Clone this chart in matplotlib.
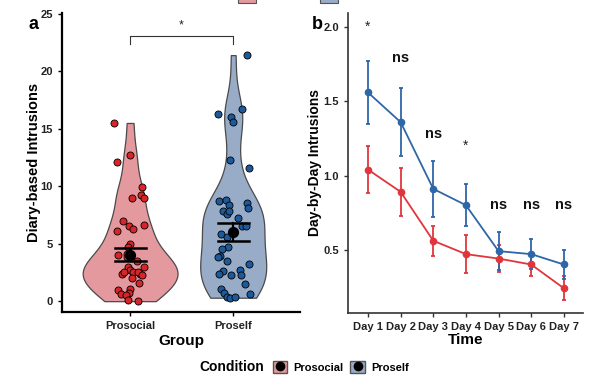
import numpy as np
import matplotlib
matplotlib.use("Agg")
import matplotlib.pyplot as plt
from matplotlib.patches import Patch, Rectangle
from matplotlib.lines import Line2D

plt.rcParams['font.family'] = ['Liberation Sans', 'DejaVu Sans']

# ---- data, panel a ----
groups = ["Prosocial", "Proself"]
prosocial_vals = [15.5, 12.7, 12.1, 9.9, 9.2, 9.0, 9.0, 7.0, 6.1, 6.5, 6.3, 6.6,
                  5.0, 4.7, 4.0, 4.1, 3.8, 3.5, 3.0, 3.0, 2.7, 2.5, 2.4, 2.5,
                  2.4, 2.5, 2.3, 2.0, 1.6, 1.1, 1.0, 0.6, 0.7, 0.5, 0.1, 0.0]
prosocial_jit = [-0.16, 0.0, -0.13, 0.12, 0.11, 0.13, 0.02, -0.07, -0.13, -0.01, 0.03, 0.13,
                 0.0, -0.02, -0.12, -0.03, -0.03, 0.07, 0.13, -0.02, 0.0, 0.03, -0.08, -0.06,
                 0.10, 0.08, 0.12, 0.02, 0.09, 0.0, -0.12, -0.09, -0.01, -0.04, -0.02, 0.08]
proself_vals = [21.4, 16.3, 16.7, 16.0, 15.6, 12.3, 11.6, 8.7, 8.8, 8.4, 8.5, 8.1,
                7.8, 7.6, 7.8, 7.2, 6.5, 6.5, 6.0, 5.8, 5.6, 4.7, 4.5, 3.9,
                3.8, 3.5, 3.2, 2.6, 2.4, 2.3, 2.7, 2.3, 1.5, 1.1, 0.7, 0.4,
                0.3, 0.4, 0.6]
proself_jit = [0.13, -0.15, 0.09, -0.02, 0.0, -0.03, 0.15, -0.14, -0.07, -0.04, 0.13, 0.14,
               -0.10, -0.06, -0.04, 0.05, 0.09, 0.12, 0.01, -0.12, -0.06, -0.05, -0.11, -0.13,
               -0.15, -0.06, 0.15, -0.10, -0.14, -0.02, 0.07, 0.08, 0.11, -0.12, -0.09, -0.06,
               -0.03, 0.02, 0.16]
group_mean = [4.05, 6.0]
group_lo = [3.5, 5.2]
group_hi = [4.6, 6.8]

# ---- data, panel b ----
days = ["Day 1", "Day 2", "Day 3", "Day 4", "Day 5", "Day 6", "Day 7"]
proself_day = [1.56, 1.36, 0.91, 0.80, 0.49, 0.47, 0.40]
proself_err = [0.21, 0.23, 0.19, 0.14, 0.13, 0.10, 0.10]
prosocial_day = [1.04, 0.89, 0.56, 0.47, 0.44, 0.40, 0.24]
prosocial_err = [0.16, 0.16, 0.10, 0.13, 0.09, 0.08, 0.08]
sig_labels = ["*", "ns", "ns", "*", "ns", "ns", "ns"]
sig_y = [2.0, 1.79, 1.28, 1.2, 0.8, 0.8, 0.8]

red_fill = "#E3999D"
blue_fill = "#98ACC8"
red_pt = "#D7262A"
blue_pt = "#1D5A9C"
red_line = "#E0363B"
blue_line = "#2E67A8"

fig = plt.figure(figsize=(5.91, 3.76), dpi=100)

# ---------------- panel a ----------------
ax = fig.add_axes([0.105, 0.170, 0.403, 0.795])
datasets = [np.array(prosocial_vals), np.array(proself_vals)]


def nrd0_factor(d):
    sd = d.std(ddof=1)
    iqr = np.subtract(*np.percentile(d, [75, 25]))
    bw = 0.9 * min(sd, iqr / 1.34) * len(d) ** -0.2
    return bw / sd


for i, (d, fc, w) in enumerate(zip(datasets, [red_fill, blue_fill], [0.92, 0.64])):
    vp = ax.violinplot(d, positions=[i + 1], widths=w, showextrema=False,
                       bw_method=nrd0_factor(d), points=200)
    for b in vp['bodies']:
        b.set_facecolor(fc)
        b.set_edgecolor("#4a4a4a")
        b.set_linewidth(0.9)
        b.set_alpha(1)

for i, (vals, jit, c) in enumerate(zip([prosocial_vals, proself_vals],
                                       [prosocial_jit, proself_jit], [red_pt, blue_pt])):
    ax.scatter(np.array(jit) + i + 1, vals, s=26, color=c, edgecolor="black",
               linewidth=0.6, zorder=3)

for i in range(2):
    x = i + 1
    ax.plot([x, x], [group_lo[i], group_hi[i]], color="black", lw=1.6, zorder=4)
    ax.plot([x - 0.15, x + 0.15], [group_lo[i]] * 2, color="black", lw=1.8, zorder=4)
    ax.plot([x - 0.15, x + 0.15], [group_hi[i]] * 2, color="black", lw=1.8, zorder=4)
    ax.scatter([x], [group_mean[i]], s=50, color="black", zorder=5)

# significance bracket
ax.plot([1, 1, 2, 2], [22.4, 23.1, 23.1, 22.4], color="#333333", lw=0.8)
ax.text(1.5, 23.5, "*", ha="center", va="bottom", fontsize=9, color="#222222")

ax.set_xlim(0.34, 2.65)
ax.set_ylim(-0.95, 25.05)
ax.set_xticks([1, 2])
ax.set_xticklabels(groups)
ax.set_yticks([0, 5, 10, 15, 20, 25])
ax.set_ylabel("Diary-based Intrusions", fontsize=10.5, fontweight="bold")
ax.yaxis.set_label_coords(-0.09, 0.5)
ax.set_xlabel("Group", fontsize=11, fontweight="bold", labelpad=2)
for s in ["top", "right"]:
    ax.spines[s].set_visible(False)
for s in ["left", "bottom"]:
    ax.spines[s].set_linewidth(1.6)
    ax.spines[s].set_color("black")
ax.tick_params(labelsize=8, width=1, length=3, colors="black", labelcolor="#222222")
for t in ax.get_xticklabels() + ax.get_yticklabels():
    t.set_fontweight("bold")
fig.text(0.049, 0.936, "a", fontsize=13, fontweight="bold", ha="left", va="center")

# ---------------- panel b ----------------
bx = fig.add_axes([0.589, 0.168, 0.397, 0.797])
xs = np.arange(1, len(days) + 1)
bx.errorbar(xs, prosocial_day, yerr=prosocial_err, color=red_line, ecolor=red_line,
            marker="o", ms=4.5, lw=1.3, elinewidth=1.3, capsize=1.5, capthick=1.3)
bx.errorbar(xs, proself_day, yerr=proself_err, color=blue_line, ecolor=blue_line,
            marker="o", ms=4.5, lw=1.3, elinewidth=1.3, capsize=1.5, capthick=1.3)
for x, lab, y in zip(xs, sig_labels, sig_y):
    if lab == "*":
        bx.text(x, y, lab, ha="center", va="center", fontsize=10, color="#222222")
    else:
        bx.text(x, y, lab, ha="center", va="center", fontsize=10.5, fontweight="bold",
                color="#111111")

bx.set_xlim(0.39, 7.58)
bx.set_ylim(0.074, 2.095)
bx.set_xticks(xs)
bx.set_xticklabels(days)
bx.set_yticks([0.5, 1.0, 1.5, 2.0])
bx.set_yticklabels(["0.5", "1.0", "1.5", "2.0"])
bx.set_ylabel("Day-by-Day Intrusions", fontsize=10, fontweight="bold")
bx.yaxis.set_label_coords(-0.11, 0.5)
bx.set_xlabel("Time", fontsize=11, fontweight="bold", labelpad=1)
for s in ["top", "right"]:
    bx.spines[s].set_visible(False)
for s in ["left", "bottom"]:
    bx.spines[s].set_linewidth(1.2)
    bx.spines[s].set_color("#333333")
bx.tick_params(labelsize=8, width=1, length=3, colors="#333333", labelcolor="#222222")
for t in bx.get_xticklabels() + bx.get_yticklabels():
    t.set_fontweight("bold")
fig.text(0.528, 0.936, "b", fontsize=13, fontweight="bold", ha="left", va="center")

# ---------------- legend ----------------
fig.text(0.447, 0.024, "Condition", fontsize=10, fontweight="bold", ha="right", va="center")
handles = [(Patch(facecolor=red_fill, edgecolor="#555555"),
            Line2D([], [], marker="o", color="black", ls="", ms=6)),
           (Patch(facecolor=blue_fill, edgecolor="#555555"),
            Line2D([], [], marker="o", color="black", ls="", ms=6))]
fig.legend(handles, groups, loc="center left", bbox_to_anchor=(0.448, 0.024), ncol=2,
           frameon=False, handlelength=1.3, handleheight=1.3, handletextpad=0.6,
           columnspacing=0.6, borderpad=0.2, prop={"weight": "bold", "size": 8})

# legend cut off at the top edge
for x0, fc in [(238, red_fill), (320, blue_fill)]:
    fig.patches.append(Rectangle((x0 / 591, 1 - 3 / 376), 18 / 591, 0.05, facecolor=fc,
                                 edgecolor="#555555", lw=0.8, transform=fig.transFigure,
                                 figure=fig))

fig.savefig("out.png", dpi=100)
